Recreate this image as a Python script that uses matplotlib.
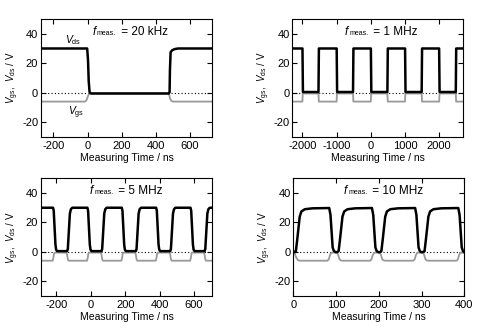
import matplotlib
matplotlib.use('Agg')
import matplotlib.pyplot as plt
from matplotlib.offsetbox import TextArea, HPacker, AnnotationBbox

plt.rcParams['font.family'] = ['Liberation Sans', 'DejaVu Sans']
plt.rcParams['mathtext.fontset'] = 'custom'
plt.rcParams['mathtext.rm'] = 'Liberation Sans'
plt.rcParams['mathtext.it'] = 'Liberation Sans:italic'
plt.rcParams['axes.unicode_minus'] = False

# ---- 20 kHz ----
t_vds_20k = [-272, -2, 3, 7, 12, 20, 476, 480, 482, 486, 495, 510, 530, 728]
vds_20k = [30, 30, 22, 8, 0.5, -0.5, -0.5, 0.5, 15, 27.5, 28.8, 29.6, 30, 30]
t_vgs_20k = [-272, -18, -10, -4, 2, 8, 15, 474, 478, 483, 490, 500, 728]
vgs_20k = [-6, -6, -5.7, -4.5, -2.5, -1, -0.5, -0.5, -1.5, -4, -5.5, -6, -6]

# ---- 1 MHz ----
t_vds_1m = [-2290, -1998, -1985, -1530, -1518, -998, -985, -520, -508, 2, 15,
            485, 497, 1002, 1015, 1487, 1499, 1998, 2011, 2485, 2497, 2710]
vds_1m = [30, 30, 0.5, 0.5, 30, 30, 0.5, 0.5, 30, 30, 0.5,
          0.5, 30, 30, 0.5, 0.5, 30, 30, 0.5, 0.5, 30, 30]
t_vgs_1m = [-2290, -2000, -1990, -1530, -1520, -1000, -990, -520, -510, 0, 10,
            485, 495, 1000, 1010, 1487, 1497, 2000, 2010, 2485, 2495, 2710]
vgs_1m = [-6, -6, -0.5, -0.5, -6, -6, -0.5, -0.5, -6, -6, -0.5,
          -0.5, -6, -6, -0.5, -0.5, -6, -6, -0.5, -0.5, -6, -6]

# ---- 5 MHz ----
t_vds_5m = [-290,
            -220, -216, -206, -202, -196, -138, -134, -122, -116, -108,
            -20, -16, -6, -2, 4, 62, 66, 78, 84, 92,
            180, 184, 194, 198, 204, 262, 266, 278, 284, 292,
            380, 384, 394, 398, 404, 462, 466, 478, 484, 492,
            580, 584, 594, 598, 604, 662, 666, 678, 684, 692,
            705]
vds_5m = [30,
          30, 28, 5, 1.5, 0.5, 0.5, 2, 26, 29, 30,
          30, 28, 5, 1.5, 0.5, 0.5, 2, 26, 29, 30,
          30, 28, 5, 1.5, 0.5, 0.5, 2, 26, 29, 30,
          30, 28, 5, 1.5, 0.5, 0.5, 2, 26, 29, 30,
          30, 28, 5, 1.5, 0.5, 0.5, 2, 26, 29, 30,
          30]
t_vgs_5m = [-290,
            -222, -218, -214, -208, -142, -138, -134, -130,
            -22, -18, -14, -8, 58, 62, 66, 70,
            178, 182, 186, 192, 258, 262, 266, 270,
            378, 382, 386, 392, 458, 462, 466, 470,
            578, 582, 586, 592, 658, 662, 666, 670,
            705]
vgs_5m = [-6,
          -6, -4, -1, -0.5, -0.5, -2, -5, -6,
          -6, -4, -1, -0.5, -0.5, -2, -5, -6,
          -6, -4, -1, -0.5, -0.5, -2, -5, -6,
          -6, -4, -1, -0.5, -0.5, -2, -5, -6,
          -6, -4, -1, -0.5, -0.5, -2, -5, -6,
          -6]

# ---- 10 MHz ----
t_vds_10m = [0, 3,
             6, 9, 15, 19, 27, 45, 84, 87, 92, 95, 100, 104,
             106, 109, 115, 119, 127, 145, 184, 187, 192, 195, 200, 204,
             206, 209, 215, 219, 227, 245, 285, 288, 293, 296, 300, 304,
             307, 310, 316, 320, 328, 346, 386, 389, 394, 397, 400]
vds_10m = [0.3, -0.3,
           0.5, 8, 24, 27.5, 29, 29.6, 29.8, 25, 3, 0.5, -0.3, 0,
           0.5, 8, 24, 27.5, 29, 29.6, 29.8, 25, 3, 0.5, -0.3, 0,
           0.5, 8, 24, 27.5, 29, 29.6, 29.8, 25, 3, 0.5, -0.3, 0,
           0.5, 8, 24, 27.5, 29, 29.6, 29.8, 25, 3, 0.5, -0.3]
t_vgs_10m = [0, 3, 7, 11, 15,
             80, 83, 86, 89, 92, 102, 105, 108, 111, 115,
             180, 183, 186, 189, 192, 202, 205, 208, 211, 215,
             281, 284, 287, 290, 293, 303, 306, 309, 312, 316,
             382, 385, 388, 391, 394, 400]
vgs_10m = [-0.5, -1, -4, -5.7, -6,
           -6, -5, -2, -0.7, -0.5, -0.5, -2, -5, -5.8, -6,
           -6, -5, -2, -0.7, -0.5, -0.5, -2, -5, -5.8, -6,
           -6, -5, -2, -0.7, -0.5, -0.5, -2, -5, -5.8, -6,
           -6, -5, -2, -0.7, -0.5, -0.5]

panels = [
    ([0.0842, 0.5836, 0.3511, 0.3587], t_vds_20k, vds_20k, t_vgs_20k, vgs_20k,
     (-272, 728), [-200, 0, 200, 400, 600], '20 kHz', 0.52),
    ([0.6006, 0.5836, 0.3511, 0.3587], t_vds_1m, vds_1m, t_vgs_1m, vgs_1m,
     (-2290, 2710), [-2000, -1000, 0, 1000, 2000], '1 MHz', 0.52),
    ([0.0842, 0.1003, 0.3511, 0.3577], t_vds_5m, vds_5m, t_vgs_5m, vgs_5m,
     (-290, 705), [-200, 0, 200, 400, 600], '5 MHz', 0.50),
    ([0.6023, 0.1003, 0.3511, 0.3577], t_vds_10m, vds_10m, t_vgs_10m, vgs_10m,
     (0, 400), [0, 100, 200, 300, 400], '10 MHz', 0.525),
]

fig = plt.figure(figsize=(4.87, 3.29), dpi=100)

for rect, tds, vds, tgs, vgs, xlim, xticks, freq, tx in panels:
    ax = fig.add_axes(rect)
    ax.plot(xlim, [0, 0], color='black', lw=0.8, ls=(0, (1, 2)))
    ax.plot(tgs, vgs, color='#999999', lw=1.3)
    ax.plot(tds, vds, color='black', lw=1.8)
    ax.set_xlim(xlim)
    ax.set_ylim(-30, 50)
    ax.set_xticks(xticks)
    ax.set_yticks([-20, 0, 20, 40])
    ax.tick_params(direction='in', top=True, right=True, length=3.5,
                   width=0.8, labelsize=8)
    ax.tick_params(axis='y', pad=2)
    ax.tick_params(axis='x', pad=3)
    for s in ax.spines.values():
        s.set_linewidth(0.8)
    ax.set_xlabel('Measuring Time / ns', fontsize=7.5, labelpad=1.5)
    ax.set_ylabel(r'$V_{\rm gs}$,  $V_{\rm ds}$ / V', fontsize=7, labelpad=1)

    parts = [
        TextArea('f', textprops=dict(fontsize=8.5, style='italic')),
        TextArea('meas.', textprops=dict(fontsize=5)),
        TextArea(' = ' + freq, textprops=dict(fontsize=8.5)),
    ]
    box = HPacker(children=parts, align='baseline', pad=0, sep=1)
    ab = AnnotationBbox(box, (tx, 0.89), xycoords='axes fraction',
                        box_alignment=(0.5, 0.5), frameon=False, pad=0)
    ax.add_artist(ab)

    if freq == '20 kHz':
        ax.text(-86, 35.7, r'$V_{\rm ds}$', fontsize=7.5, ha='center', va='center')
        ax.text(-68, -13.3, r'$V_{\rm gs}$', fontsize=7.5, ha='center', va='center')

fig.savefig('out.png', dpi=100)
